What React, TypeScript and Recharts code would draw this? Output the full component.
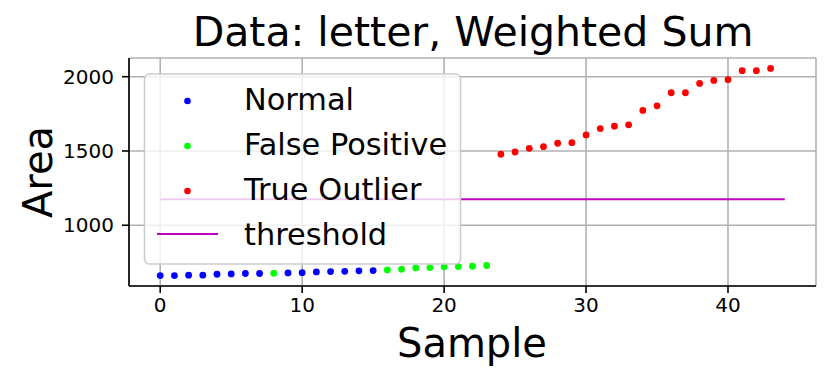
import React from 'react';
import { ComposedChart, Scatter, XAxis, YAxis, CartesianGrid } from 'recharts';

const sampleIndex = [0,1,2,3,4,5,6,7,8,9,10,11,12,13,14,15,16,17,18,19,20,21,22,23,24,25,26,27,28,29,30,31,32,33,34,35,36,37,38,39,40,41,42,43];
const areaValues = [661,661,664,664,670,672,675,675,677,679,681,686,688,690,693,695,699,704,713,715,720,722,724,729,1478,1493,1518,1529,1552,1556,1608,1651,1667,1676,1773,1804,1892,1892,1955,1975,1980,2041,2041,2056];
const pointClass = ['N','N','N','N','N','N','N','N','F','N','N','N','N','N','N','N','F','F','F','F','F','F','F','F','T','T','T','T','T','T','T','T','T','T','T','T','T','T','T','T','T','T','T','T'];
const thresholdX = [0, 44];
const thresholdValue = 1175;
const xTicks = [0, 10, 20, 30, 40];
const yTicks = [1000, 1500, 2000];

const allPts = sampleIndex.map((x, i) => ({ x, y: areaValues[i], c: pointClass[i] }));
const normalPts = allPts.filter(p => p.c === 'N');
const falsePts = allPts.filter(p => p.c === 'F');
const truePts = allPts.filter(p => p.c === 'T');
const thresholdPts = thresholdX.map(x => ({ x, y: thresholdValue }));

const dot = (color: string) => (props: any) => (
  <circle cx={props.cx} cy={props.cy} r={3.4} fill={color} />
);

const FONT = 'DejaVu Sans';

export default function App() {
  return (
    <div style={{ position: 'absolute', left: 0, top: 0, width: 830, height: 383, background: '#fff', fontFamily: FONT }}>
      <ComposedChart width={830} height={383} margin={{ top: 58, right: 14, bottom: 0, left: 0 }}>
        <CartesianGrid stroke="#b0b0b0" strokeWidth={1.6} />
        <XAxis type="number" dataKey="x" domain={[-2.2, 46.2]} ticks={xTicks} allowDataOverflow
          height={97} axisLine={{ stroke: '#000', strokeWidth: 1.6 }} tickLine={{ stroke: '#000', strokeWidth: 1.6 }}
          tickSize={7} tickMargin={5} tick={{ fontSize: 20, fill: '#000', fontFamily: FONT }} />
        <YAxis type="number" dataKey="y" domain={[591, 2126]} ticks={yTicks} allowDataOverflow
          width={129} axisLine={{ stroke: '#000', strokeWidth: 1.6 }} tickLine={{ stroke: '#000', strokeWidth: 1.6 }}
          tickSize={7} tickMargin={8} tick={{ fontSize: 20, fill: '#000', fontFamily: FONT }} />
        <XAxis xAxisId="top" orientation="top" type="number" domain={[0, 1]} height={0} tick={false} tickLine={false}
          axisLine={{ stroke: '#000', strokeWidth: 1.6 }} />
        <YAxis yAxisId="right" orientation="right" type="number" domain={[0, 1]} width={0} tick={false} tickLine={false}
          axisLine={{ stroke: '#000', strokeWidth: 1.6 }} />
        <Scatter data={normalPts} shape={dot('#0000ff')} isAnimationActive={false} />
        <Scatter data={falsePts} shape={dot('#00ff00')} isAnimationActive={false} />
        <Scatter data={truePts} shape={dot('#ff0000')} isAnimationActive={false} />
        <Scatter data={thresholdPts} line={{ stroke: '#bf00bf', strokeWidth: 2 }} shape={() => <g />} isAnimationActive={false} />
      </ComposedChart>
      <svg width={830} height={383} style={{ position: 'absolute', left: 0, top: 0, pointerEvents: 'none' }} fontFamily={FONT}>
        <text x={473} y={46} textAnchor="middle" fontSize={41} fill="#000">Data: letter, Weighted Sum</text>
        <text x={472} y={357} textAnchor="middle" fontSize={40} fill="#000">Sample</text>
        <text transform="translate(52,172) rotate(-90)" textAnchor="middle" fontSize={40} fill="#000">Area</text>
        <rect x={144.5} y={74} width={316} height={190} rx={5} fill="#fff" fillOpacity={0.8} stroke="#cccccc" strokeWidth={1.6} />
        <circle cx={187.5} cy={101} r={3.3} fill="#0000ff" />
        <circle cx={187.5} cy={146} r={3.3} fill="#00ff00" />
        <circle cx={187.5} cy={191} r={3.3} fill="#ff0000" />
        <line x1={157} x2={218} y1={234} y2={234} stroke="#bf00bf" strokeWidth={2} />
        <text x={244} y={110} fontSize={30.4} fill="#000">Normal</text>
        <text x={244} y={155} fontSize={30.4} fill="#000">False Positive</text>
        <text x={244} y={200} fontSize={30.4} fill="#000">True Outlier</text>
        <text x={244} y={245} fontSize={30.4} fill="#000">threshold</text>
      </svg>
    </div>
  );
}
